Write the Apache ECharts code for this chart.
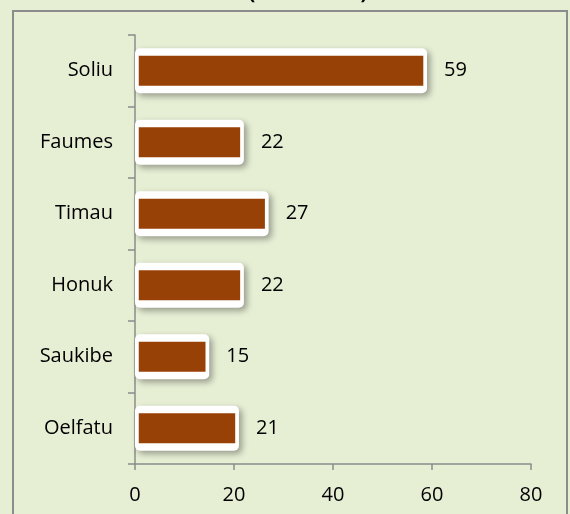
<!DOCTYPE html>
<html>
<head>
<meta charset="utf-8">
<script src="https://cdn.jsdelivr.net/npm/echarts@6/dist/echarts.min.js"></script>
<style>
  html, body { margin: 0; padding: 0; background: #e6eed4; }
  #chart { width: 570px; height: 514px; }
</style>
</head>
<body>
<div id="chart"></div>
<script>
var places = ['Soliu', 'Faumes', 'Timau', 'Honuk', 'Saukibe', 'Oelfatu'];
var counts = [59, 22, 27, 22, 15, 21];
var xTicks = [0, 20, 40, 60, 80];

var chart = echarts.init(document.getElementById('chart'));

var axisGray = '#8c8c8c';

var option = {
  backgroundColor: '#e6eed4',
  animation: false,
  textStyle: { fontFamily: 'Open Sans' },
  graphic: [
    // frame round the plot, bottom edge is off the picture
    {
      type: 'rect',
      shape: { x: 13, y: 11, width: 554, height: 530 },
      style: { fill: 'none', stroke: axisGray, lineWidth: 2 },
      z: 0
    },
    // the title is cut off at the top, only the parentheses peek in
    {
      type: 'text',
      style: { text: '(', x: 252, y: 3, font: 'bold 20px "Open Sans"', fill: '#000', textAlign: 'center', textVerticalAlign: 'bottom' }
    },
    {
      type: 'text',
      style: { text: ')', x: 364, y: 3, font: 'bold 20px "Open Sans"', fill: '#000', textAlign: 'center', textVerticalAlign: 'bottom' }
    }
  ],
  grid: { left: 135, right: 39, top: 35, bottom: 50 },
  xAxis: {
    type: 'value',
    min: xTicks[0],
    max: xTicks[xTicks.length - 1],
    interval: 20,
    splitLine: { show: false },
    axisLine: { show: true, lineStyle: { color: axisGray, width: 1.5 } },
    axisTick: { show: true, length: 6, lineStyle: { color: axisGray, width: 1.5 } },
    axisLabel: { color: '#000', fontSize: 20, margin: 21 }
  },
  yAxis: [
    {
      type: 'category',
      data: places,
      inverse: true,
      axisLine: { show: true, lineStyle: { color: axisGray, width: 1.5 } },
      axisTick: { show: true, length: 7, lineStyle: { color: axisGray, width: 1.5 } },
      axisLabel: { color: '#000', fontSize: 20, margin: 22 }
    },
    {
      // hidden twin axis so the white frames are laid out on their own
      type: 'category',
      data: places,
      inverse: true,
      position: 'left',
      show: false
    }
  ],
  series: [
    {
      // white rounded frame with drop shadow
      type: 'bar',
      yAxisIndex: 1,
      data: counts,
      barWidth: 45,
      z: 2,
      silent: true,
      itemStyle: {
        color: '#ffffff',
        borderRadius: 5,
        shadowColor: 'rgba(0,0,0,0.35)',
        shadowBlur: 6,
        shadowOffsetX: 3,
        shadowOffsetY: 3
      }
    },
    {
      // brown bar, transparent border pulls it in from the frame edge
      type: 'bar',
      yAxisIndex: 0,
      data: counts,
      barWidth: 37.5,
      z: 3,
      itemStyle: {
        color: '#984106',
        borderColor: 'rgba(0,0,0,0)',
        borderWidth: 7.5
      },
      label: {
        show: true,
        position: 'right',
        distance: 17,
        color: '#000',
        fontSize: 20
      }
    }
  ]
};

chart.setOption(option);
</script>
</body>
</html>
